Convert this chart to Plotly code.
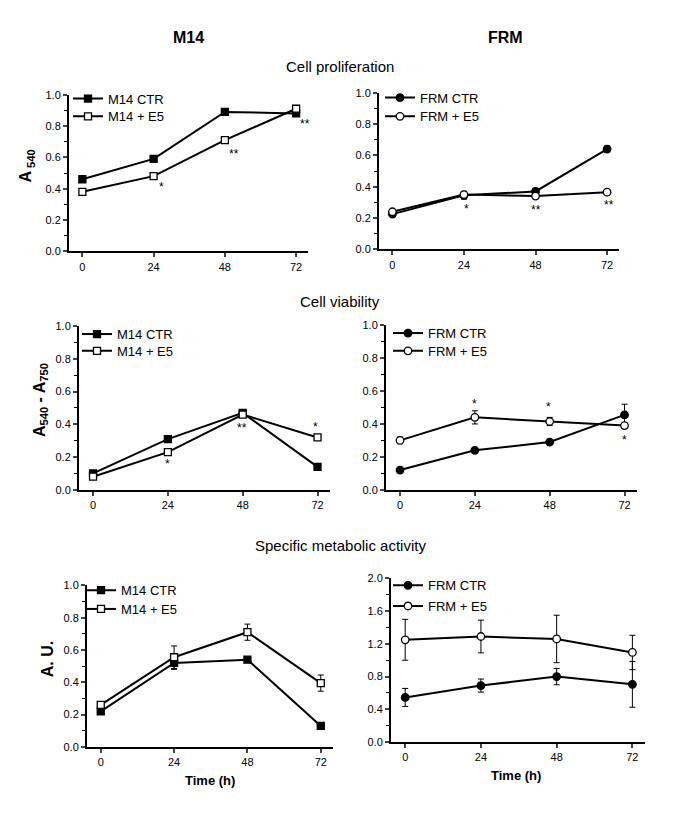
import plotly.graph_objects as go

# time points (h)
hours = [0, 24, 48, 72]

# Cell proliferation (A540)
prol_m14_ctr = [0.46, 0.59, 0.89, 0.88]
prol_m14_e5 = [0.38, 0.48, 0.71, 0.91]
prol_frm_ctr = [0.225, 0.345, 0.37, 0.64]
prol_frm_ctr_err = [0.01, 0.025, 0.02, 0.02]
prol_frm_e5 = [0.24, 0.35, 0.34, 0.365]
prol_frm_e5_err = [0.01, 0.02, 0.015, 0.015]

# Cell viability (A540 - A750)
via_m14_ctr = [0.10, 0.31, 0.47, 0.14]
via_m14_e5 = [0.08, 0.23, 0.46, 0.32]
via_frm_ctr = [0.12, 0.24, 0.29, 0.455]
via_frm_ctr_err = [0.005, 0.005, 0.005, 0.065]
via_frm_e5 = [0.30, 0.44, 0.415, 0.39]
via_frm_e5_err = [0.02, 0.04, 0.025, 0.015]

# Specific metabolic activity (A.U.)
met_m14_ctr = [0.22, 0.52, 0.54, 0.13]
met_m14_ctr_err = [0.005, 0.04, 0.005, 0.005]
met_m14_e5 = [0.26, 0.555, 0.71, 0.395]
met_m14_e5_err = [0.005, 0.07, 0.05, 0.05]
met_frm_ctr = [0.545, 0.69, 0.80, 0.705]
met_frm_ctr_err = [0.11, 0.08, 0.10, 0.28]
met_frm_e5 = [1.25, 1.29, 1.26, 1.095]
met_frm_e5_err = [0.25, 0.20, 0.29, 0.21]

# significance marks: (x, y, text) per panel
stars_1 = ([26.5, 51, 75], [0.41, 0.62, 0.81], ["*", "**", "**"])
stars_2 = ([24.8, 48.3, 72.8], [0.26, 0.25, 0.28], ["*", "**", "**"])
stars_3 = ([23.8, 47.8, 71.5], [0.16, 0.38, 0.385], ["*", "**", "*"])
stars_4 = ([23.9, 47.5, 72], [0.52, 0.505, 0.305], ["*", "*", "*"])

W, H = 685, 815
FONT = "Arial, Liberation Sans, sans-serif"

# panel boxes in pixels: (left, right, top, bottom)
boxes = [
    (69, 308, 90, 249),
    (379, 619, 88, 247),
    (79, 330, 325, 491),
    (386, 637, 324, 491),
    (87, 333, 588, 752),
    (391, 645, 581, 747),
]
# legend text start x and row centres (px) per panel
leg_x = [108, 420, 117, 428, 121, 428]
leg_rows = [(94, 112), (93, 112), (333, 350), (332, 350), (593, 612), (588, 609)]

fig = go.Figure()
legends = {}
count = [0]


def err(vals):
    return dict(type="data", array=vals, visible=True, color="black",
                thickness=1, width=3)


def add(panel, y, name, symbol, fill, e=None, row=0):
    sfx = "" if panel == 0 else str(panel + 1)
    count[0] += 1
    lg = "legend" if count[0] == 1 else "legend" + str(count[0])
    legends[lg] = dict(
        x=(leg_x[panel] - 40) / W, y=1 - leg_rows[panel][row] / H,
        xanchor="left", yanchor="middle",
        bgcolor="rgba(0,0,0,0)", font=dict(size=13, family=FONT),
        itemwidth=30,
    )
    fig.add_trace(go.Scatter(
        x=hours, y=y, name=name, mode="lines+markers",
        xaxis="x" + sfx, yaxis="y" + sfx, legend=lg, showlegend=True,
        line=dict(color="black", width=2),
        marker=dict(symbol=symbol, size=7.5 if symbol == "circle" else 7,
                    color=fill, line=dict(color="black", width=1.3)),
        error_y=err(e) if e else None,
        cliponaxis=False,
    ))


add(0, prol_m14_ctr, "M14 CTR", "square", "black")
add(0, prol_m14_e5, "M14 + E5", "square", "white", row=1)
add(1, prol_frm_ctr, "FRM CTR", "circle", "black", prol_frm_ctr_err)
add(1, prol_frm_e5, "FRM + E5", "circle", "white", prol_frm_e5_err, row=1)
add(2, via_m14_ctr, "M14 CTR", "square", "black")
add(2, via_m14_e5, "M14 + E5", "square", "white", row=1)
add(3, via_frm_ctr, "FRM CTR", "circle", "black", via_frm_ctr_err)
add(3, via_frm_e5, "FRM + E5", "circle", "white", via_frm_e5_err, row=1)
add(4, met_m14_ctr, "M14 CTR", "square", "black", met_m14_ctr_err)
add(4, met_m14_e5, "M14 + E5", "square", "white", met_m14_e5_err, row=1)
add(5, met_frm_ctr, "FRM CTR", "circle", "black", met_frm_ctr_err)
add(5, met_frm_e5, "FRM + E5", "circle", "white", met_frm_e5_err, row=1)

layout = dict(
    width=W, height=H, showlegend=True,
    margin=dict(l=0, r=0, t=0, b=0),
    paper_bgcolor="white", plot_bgcolor="white",
    font=dict(family=FONT, color="black", size=11),
)
layout.update(legends)

annotations = []
for i, (l, r, t, b) in enumerate(boxes):
    sfx = "" if i == 0 else str(i + 1)
    ymax = 2.0 if i == 5 else 1.0
    dt = 0.4 if i == 5 else 0.2
    layout["xaxis" + sfx] = dict(
        domain=[l / W, r / W], range=[-4.5, 76], anchor="y" + sfx,
        tickvals=hours, ticks="outside", ticklen=4, tickwidth=1.5,
        showline=True, linecolor="black", linewidth=2, showgrid=False,
        zeroline=False, tickfont=dict(size=11),
    )
    layout["yaxis" + sfx] = dict(
        domain=[1 - b / H, 1 - t / H], range=[0, ymax], anchor="x" + sfx,
        dtick=dt, tickformat=".1f", ticks="outside", ticklen=4, tickwidth=1.5,
        minor=dict(dtick=dt / 2, ticks="outside", ticklen=3, tickwidth=1.2,
                   tickcolor="black"),
        showline=True, linecolor="black", linewidth=2, showgrid=False,
        zeroline=False, tickfont=dict(size=11),
    )

for i, (xs, ys, txt) in enumerate([stars_1, stars_2, stars_3, stars_4]):
    sfx = "" if i == 0 else str(i + 1)
    for xv, yv, tv in zip(xs, ys, txt):
        annotations.append(dict(x=xv, y=yv, xref="x" + sfx, yref="y" + sfx,
                                text=tv, showarrow=False,
                                font=dict(size=12, family=FONT)))


def paper_text(x, y, text, size, bold=False, angle=0):
    annotations.append(dict(
        x=x / W, y=1 - y / H, xref="paper", yref="paper",
        text="<b>" + text + "</b>" if bold else text, showarrow=False,
        textangle=angle, font=dict(size=size, family=FONT),
        xanchor="center", yanchor="middle"))


paper_text(188, 32, "M14", 16, bold=True)
paper_text(505, 32, "FRM", 16, bold=True)
paper_text(340, 61, "Cell proliferation", 15)
paper_text(340, 300, "Cell viability", 15)
paper_text(340, 548, "Specific metabolic activity", 15)
paper_text(27, 163, "A<sub> 540</sub>", 16, bold=True, angle=-90)
paper_text(40, 400, "A<sub>540</sub> - A<sub>750</sub>", 16, bold=True, angle=-90)
paper_text(47, 663, "A. U.", 16, bold=True, angle=-90)
paper_text(210, 786, "Time (h)", 13, bold=True)
paper_text(516, 781, "Time (h)", 13, bold=True)

layout["annotations"] = annotations
fig.update_layout(**layout)

fig.write_html("out.html", config={"displayModeBar": False},
               post_script="document.body.style.margin='0';")
